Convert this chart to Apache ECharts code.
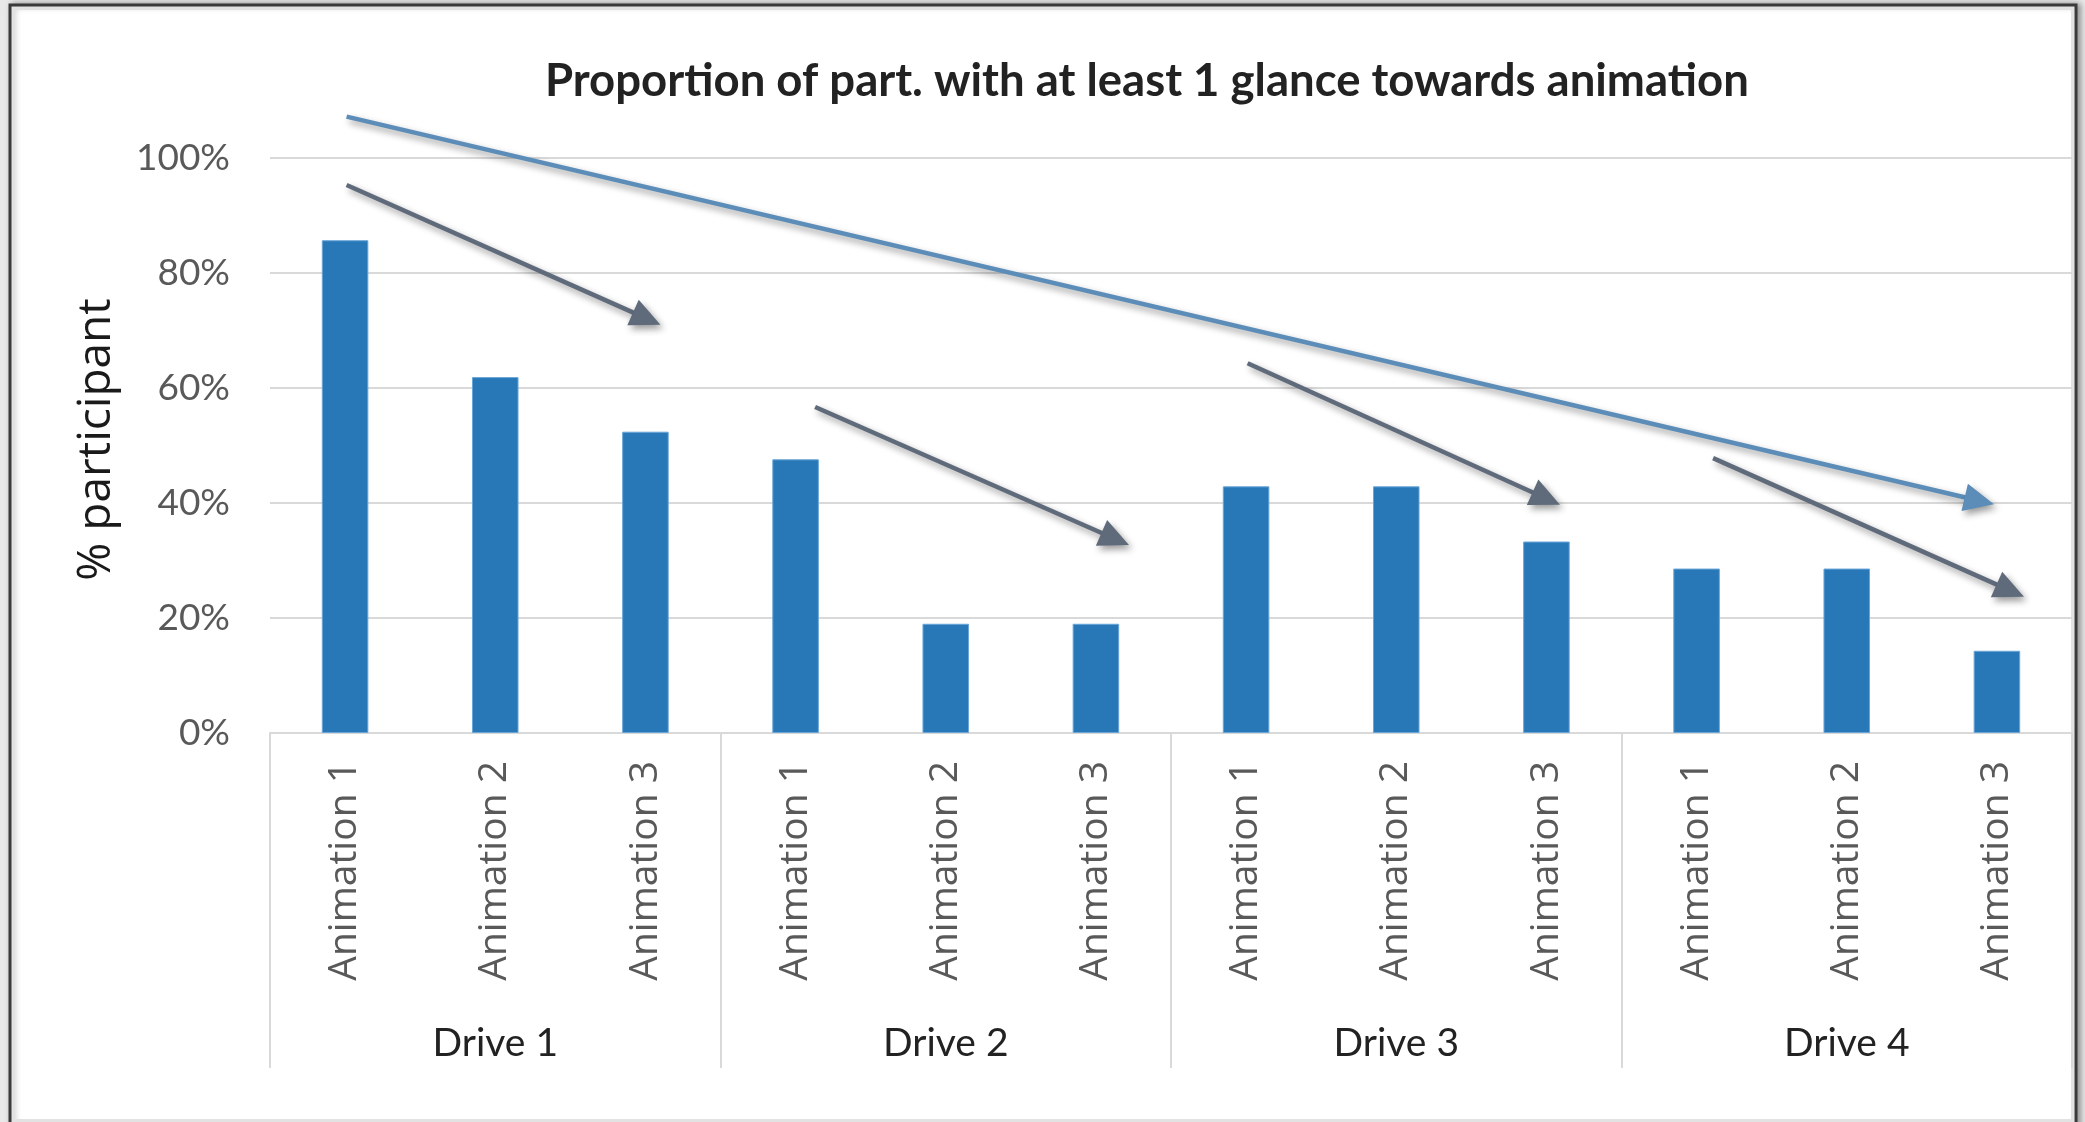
<!DOCTYPE html>
<html>
<head>
<meta charset="utf-8">
<script src="https://cdn.jsdelivr.net/npm/echarts@6/dist/echarts.min.js"></script>
<style>
  html, body { margin: 0; padding: 0; background: #e8e8e8; }
  #chart { width: 2085px; height: 1122px; }
</style>
</head>
<body>
<div id="chart"></div>
<script>
// Drives and the three animations shown in each drive
const drives = ['Drive 1', 'Drive 2', 'Drive 3', 'Drive 4'];
const animations = ['Animation 1', 'Animation 2', 'Animation 3'];
const categories = drives.flatMap(() => animations);

// Share of participants (%) with at least one glance towards the animation
const glanceShare = [85.7, 61.9, 52.4, 47.6, 19.0, 19.0, 42.9, 42.9, 33.3, 28.6, 28.6, 14.3];

// Value axis ticks
const yMin = 0;
const yMax = 100;
const yStep = 20;

// Trend arrows, in [fromIndex, fromPct, toIndex, toPct] (index = category position)
const driveTrendArrows = [
  [0.01, 95.3, 2.10, 71.0],
  [3.13, 56.7, 5.22, 32.7],
  [6.01, 64.3, 8.09, 39.7],
  [9.11, 47.8, 11.18, 23.7]
];
const overallTrendArrow = [0.01, 107.2, 10.98, 39.8];

const chart = echarts.init(document.getElementById('chart'), null, { renderer: 'canvas' });

function renderArrow(params, api) {
  const p1 = api.coord([api.value(0), api.value(1)]);
  const p2 = api.coord([api.value(2), api.value(3)]);
  const color = api.value(4) === 1 ? '#5b8db8' : '#5f6a7a';
  const dx = p2[0] - p1[0], dy = p2[1] - p1[1];
  const len = Math.sqrt(dx * dx + dy * dy);
  const ux = dx / len, uy = dy / len;
  const headLen = 30, headHalf = 14;
  const base = [p2[0] - ux * headLen, p2[1] - uy * headLen];
  const shadow = { shadowBlur: 7, shadowOffsetX: 3, shadowOffsetY: 4, shadowColor: 'rgba(0,0,0,0.4)' };
  return {
    type: 'group',
    children: [
      {
        type: 'line',
        shape: { x1: p1[0], y1: p1[1], x2: base[0] + ux * 4, y2: base[1] + uy * 4 },
        style: Object.assign({ stroke: color, lineWidth: 4.5 }, shadow)
      },
      {
        type: 'polygon',
        shape: { points: [
          p2,
          [base[0] - uy * headHalf, base[1] + ux * headHalf],
          [base[0] + uy * headHalf, base[1] - ux * headHalf]
        ] },
        style: Object.assign({ fill: color }, shadow)
      }
    ]
  };
}

const arrowData = driveTrendArrows.map(a => a.concat([0])).concat([overallTrendArrow.concat([1])]);

chart.setOption({
  backgroundColor: '#e8e8e8',
  animation: false,
  graphic: [
    {
      type: 'rect', z: -10, silent: true,
      shape: { x: 10, y: 5, width: 2066, height: 1140 },
      style: { fill: '#ffffff', stroke: '#3a3a3a', lineWidth: 3,
               shadowBlur: 6, shadowOffsetX: 3, shadowColor: 'rgba(0,0,0,0.35)' }
    },
    {
      type: 'rect', z: -9, silent: true,
      shape: { x: 13.5, y: 8.5, width: 2059, height: 1112 },
      style: { fill: 'none', stroke: '#e2e2e2', lineWidth: 3 }
    }
  ],
  title: {
    text: 'Proportion of part. with at least 1 glance towards animation',
    left: 540,
    top: 53,
    textStyle: { fontFamily: 'Lato', fontWeight: 'bold', fontSize: 45.5, color: '#222222' }
  },
  grid: { left: 270, right: 13, top: 158, bottom: 389, containLabel: false },
  xAxis: [
    {
      type: 'category',
      data: categories,
      position: 'bottom',
      boundaryGap: true,
      axisLine: { show: true, lineStyle: { color: '#d9d9d9', width: 2 } },
      axisTick: { show: false },
      axisLabel: {
        interval: 0, rotate: 90, margin: 28,
        fontFamily: 'Open Sans', fontSize: 39, color: '#595959'
      }
    },
    {
      type: 'category',
      data: drives,
      position: 'bottom',
      offset: 0,
      boundaryGap: true,
      axisLine: { show: false },
      axisTick: { show: true, interval: 0, length: 335, lineStyle: { color: '#d9d9d9', width: 2 } },
      axisLabel: {
        interval: 0, margin: 291,
        fontFamily: 'Lato', fontSize: 39, color: '#222222'
      }
    },
    {
      type: 'value', show: false, min: -0.5, max: 11.5
    }
  ],
  yAxis: {
    type: 'value',
    min: yMin, max: yMax, interval: yStep,
    name: '% participant',
    nameLocation: 'middle',
    nameGap: 150,
    nameTextStyle: { fontFamily: 'Open Sans', fontSize: 46, color: '#1a1a1a', padding: [0, 0, 0, 12] },
    axisLine: { show: false },
    axisTick: { show: false },
    axisLabel: {
      formatter: '{value}%', margin: 40,
      fontFamily: 'Lato', fontSize: 37, color: '#595959'
    },
    splitLine: { lineStyle: { color: '#d9d9d9', width: 2 } }
  },
  series: [
    {
      type: 'bar',
      xAxisIndex: 0,
      data: glanceShare,
      barWidth: '31%',
      itemStyle: { color: '#2878b8', borderColor: '#6aa6d8', borderWidth: 1 },
      z: 2
    },
    {
      type: 'custom',
      xAxisIndex: 2,
      yAxisIndex: 0,
      renderItem: renderArrow,
      data: arrowData,
      encode: { x: [0, 2], y: [1, 3] },
      clip: false,
      silent: true,
      z: 5
    }
  ]
});
</script>
</body>
</html>
